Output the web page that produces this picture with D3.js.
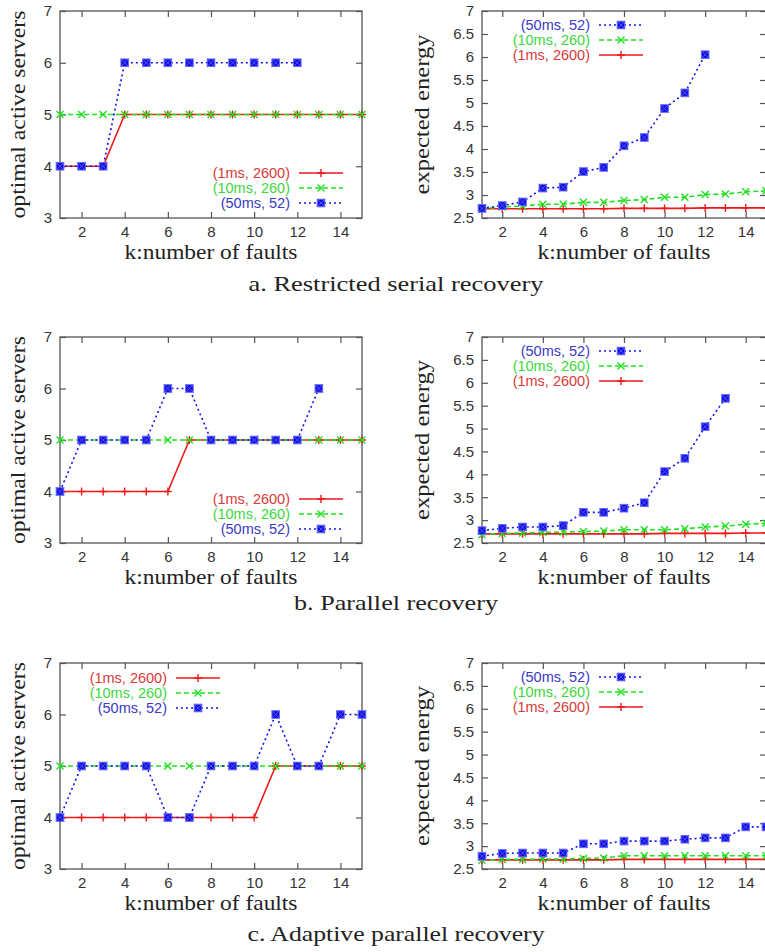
<!DOCTYPE html>
<html>
<head>
<meta charset="utf-8">
<script src="https://cdn.jsdelivr.net/npm/d3@7"></script>
<style>
  html, body { margin: 0; padding: 0; background: #fff; }
  svg { display: block; }
</style>
</head>
<body>
<svg id="chart" width="765" height="952"></svg>
<script>
// ---------- data ----------
const ks = [1, 2, 3, 4, 5, 6, 7, 8, 9, 10, 11, 12, 13, 14, 15];
const seriesNames = ["(1ms, 2600)", "(10ms, 260)", "(50ms, 52)"];
const serverTicks = [3, 4, 5, 6, 7];
const energyTicks = [2.5, 3, 3.5, 4, 4.5, 5, 5.5, 6, 6.5, 7];
const kTicks = [2, 4, 6, 8, 10, 12, 14];
const captions = ["a. Restricted serial recovery", "b. Parallel recovery", "c. Adaptive parallel recovery"];

// a. Restricted serial recovery
const aServers1ms  = [4, 4, 4, 5, 5, 5, 5, 5, 5, 5, 5, 5, 5, 5, 5];
const aServers10ms = [5, 5, 5, 5, 5, 5, 5, 5, 5, 5, 5, 5, 5, 5, 5];
const aServers50ms = [4, 4, 4, 6, 6, 6, 6, 6, 6, 6, 6, 6];
const aEnergy1ms   = [2.70, 2.70, 2.70, 2.70, 2.70, 2.70, 2.70, 2.71, 2.71, 2.71, 2.71, 2.72, 2.72, 2.72, 2.72];
const aEnergy10ms  = [2.70, 2.74, 2.76, 2.80, 2.80, 2.84, 2.84, 2.88, 2.90, 2.95, 2.95, 3.01, 3.02, 3.07, 3.09];
const aEnergy50ms  = [2.71, 2.77, 2.85, 3.15, 3.17, 3.51, 3.60, 4.07, 4.25, 4.88, 5.22, 6.05];

// b. Parallel recovery
const bServers1ms  = [4, 4, 4, 4, 4, 4, 5, 5, 5, 5, 5, 5, 5, 5, 5];
const bServers10ms = [5, 5, 5, 5, 5, 5, 5, 5, 5, 5, 5, 5, 5, 5, 5];
const bServers50ms = [4, 5, 5, 5, 5, 6, 6, 5, 5, 5, 5, 5, 6];
const bEnergy1ms   = [2.70, 2.70, 2.70, 2.70, 2.70, 2.70, 2.70, 2.70, 2.70, 2.71, 2.71, 2.71, 2.71, 2.72, 2.72];
const bEnergy10ms  = [2.68, 2.71, 2.72, 2.73, 2.74, 2.75, 2.76, 2.79, 2.79, 2.79, 2.81, 2.85, 2.87, 2.91, 2.93];
const bEnergy50ms  = [2.77, 2.82, 2.85, 2.85, 2.88, 3.17, 3.17, 3.26, 3.38, 4.06, 4.35, 5.04, 5.66];

// c. Adaptive parallel recovery
const cServers1ms  = [4, 4, 4, 4, 4, 4, 4, 4, 4, 4, 5, 5, 5, 5, 5];
const cServers10ms = [5, 5, 5, 5, 5, 5, 5, 5, 5, 5, 5, 5, 5, 5, 5];
const cServers50ms = [4, 5, 5, 5, 5, 4, 4, 5, 5, 5, 6, 5, 5, 6, 6];
const cEnergy1ms   = [2.70, 2.70, 2.70, 2.70, 2.70, 2.70, 2.70, 2.71, 2.71, 2.71, 2.71, 2.71, 2.71, 2.71, 2.71];
const cEnergy10ms  = [2.69, 2.71, 2.71, 2.72, 2.72, 2.73, 2.74, 2.79, 2.79, 2.79, 2.79, 2.79, 2.79, 2.79, 2.79];
const cEnergy50ms  = [2.78, 2.84, 2.85, 2.85, 2.85, 3.05, 3.05, 3.11, 3.11, 3.11, 3.15, 3.18, 3.18, 3.42, 3.42];

// ---------- styles ----------
const lineColors = ["#f01818", "#22e022", "#1414f0"];
const textColors = ["#d83a3a", "#3ed63e", "#3a3ac4"];
const dashes = [null, "5,3", "2,3"];
const serif = "'Liberation Serif', 'Times New Roman', serif";
const sans = "'Liberation Sans', Arial, Helvetica, sans-serif";

const svg = d3.select("#chart");

function drawMarker(g, type, x, y) {
  const c = lineColors[type];
  if (type === 0) {
    g.append("line").attr("x1", x - 4).attr("x2", x + 4).attr("y1", y).attr("y2", y)
      .attr("stroke", c).attr("stroke-width", 1.4);
    g.append("line").attr("x1", x).attr("x2", x).attr("y1", y - 4).attr("y2", y + 4)
      .attr("stroke", c).attr("stroke-width", 1.4);
  } else if (type === 1) {
    g.append("path").attr("d", `M${x-3.5},${y-3.5}L${x+3.5},${y+3.5}M${x-3.5},${y+3.5}L${x+3.5},${y-3.5}`)
      .attr("stroke", c).attr("stroke-width", 1.4).attr("fill", "none");
  } else {
    g.append("rect").attr("x", x - 3.8).attr("y", y - 3.8).attr("width", 7.6).attr("height", 7.6)
      .attr("fill", "#1010d8").attr("stroke", "#6a6aff").attr("stroke-width", 1);
    g.append("path").attr("d", `M${x-3.8},${y-3.8}L${x+3.8},${y+3.8}M${x-3.8},${y+3.8}L${x+3.8},${y-3.8}`)
      .attr("stroke", "#5050ff").attr("stroke-width", 1).attr("fill", "none");
  }
}

function drawPanel(p) {
  const g = svg.append("g");
  const x = d3.scaleLinear().domain([1, 15]).range([p.left, p.right]);
  const y = d3.scaleLinear().domain(p.yDomain).range([p.bottom, p.top]);

  // border
  g.append("rect").attr("x", p.left).attr("y", p.top)
    .attr("width", p.right - p.left).attr("height", p.bottom - p.top)
    .attr("fill", "none").attr("stroke", "#555").attr("stroke-width", 1.3);

  // axes (ticks inward, mirrored)
  const tickStyle = sel => {
    sel.select(".domain").remove();
    sel.selectAll(".tick line").attr("stroke", "#555").attr("stroke-width", 1.2);
  };
  const xb = g.append("g").attr("transform", `translate(0,${p.bottom})`)
    .call(d3.axisBottom(x).tickValues(kTicks).tickSize(-6).tickPadding(8).tickFormat(d3.format("d")));
  tickStyle(xb);
  xb.selectAll("text").attr("font-family", sans).attr("font-size", 15).attr("fill", "#333");
  const xt = g.append("g").attr("transform", `translate(0,${p.top})`)
    .call(d3.axisTop(x).tickValues(kTicks).tickSize(-6).tickFormat(""));
  tickStyle(xt);
  const yl = g.append("g").attr("transform", `translate(${p.left},0)`)
    .call(d3.axisLeft(y).tickValues(p.yTicks).tickSize(-6).tickPadding(8).tickFormat(d3.format("")));
  tickStyle(yl);
  yl.selectAll("text").attr("font-family", sans).attr("font-size", 15).attr("fill", "#333");
  const yr = g.append("g").attr("transform", `translate(${p.right},0)`)
    .call(d3.axisRight(y).tickValues(p.yTicks).tickSize(-6).tickFormat(""));
  tickStyle(yr);

  // axis titles
  g.append("text").attr("x", (p.left + p.right) / 2).attr("y", p.bottom + 41)
    .attr("text-anchor", "middle").attr("font-family", serif).attr("font-size", 22)
    .attr("textLength", 173).attr("lengthAdjust", "spacingAndGlyphs")
    .attr("fill", "#222").text("k:number of faults");
  g.append("text")
    .attr("transform", `translate(${p.yLabelX},${(p.top + p.bottom) / 2}) rotate(-90)`)
    .attr("text-anchor", "middle").attr("font-family", serif).attr("font-size", 22)
    .attr("textLength", p.yLabelLen).attr("lengthAdjust", "spacingAndGlyphs")
    .attr("fill", "#222").text(p.yLabel);

  // series lines + markers
  const line = d3.line().x((d, i) => x(ks[i])).y(d => y(d));
  p.series.forEach((vals, si) => {
    g.append("path").datum(vals).attr("d", line)
      .attr("fill", "none").attr("stroke", lineColors[si]).attr("stroke-width", 1.6)
      .attr("stroke-dasharray", dashes[si]);
  });
  p.series.forEach((vals, si) => {
    const mg = g.append("g");
    vals.forEach((v, i) => drawMarker(mg, si, x(ks[i]), y(v)));
  });

  // legend
  p.legendOrder.forEach((si, row) => {
    const ly = p.top + p.legendRow0 + row * 15;
    g.append("text").attr("x", p.left + p.legendTextEnd).attr("y", ly)
      .attr("text-anchor", "end").attr("dominant-baseline", "central")
      .attr("font-family", sans).attr("font-size", 14.5).attr("fill", textColors[si])
      .text(seriesNames[si]);
    const x1 = p.left + p.legendTextEnd + 9, x2 = x1 + 44;
    g.append("line").attr("x1", x1).attr("x2", x2).attr("y1", ly).attr("y2", ly)
      .attr("stroke", lineColors[si]).attr("stroke-width", 1.6)
      .attr("stroke-dasharray", dashes[si]);
    drawMarker(g, si, (x1 + x2) / 2, ly);
  });
}

const rows = [
  { top: 11, bottom: 218, s: [aServers1ms, aServers10ms, aServers50ms], e: [aEnergy1ms, aEnergy10ms, aEnergy50ms],
    serverLegend: "br", capY: 291, capLen: 295 },
  { top: 337, bottom: 543, s: [bServers1ms, bServers10ms, bServers50ms], e: [bEnergy1ms, bEnergy10ms, bEnergy50ms],
    serverLegend: "br", capY: 610, capLen: 204 },
  { top: 663, bottom: 869, s: [cServers1ms, cServers10ms, cServers50ms], e: [cEnergy1ms, cEnergy10ms, cEnergy50ms],
    serverLegend: "tl", capY: 941, capLen: 297 }
];

rows.forEach((r, ri) => {
  const br = r.serverLegend === "br";
  drawPanel({
    left: 60, right: 362, top: r.top, bottom: r.bottom,
    yDomain: [3, 7], yTicks: serverTicks, yLabel: "optimal active servers", yLabelX: 25, yLabelLen: 208,
    series: r.s, legendOrder: [0, 1, 2],
    legendRow0: br ? 162 : 15, legendTextEnd: br ? 230 : 107
  });
  drawPanel({
    left: 482, right: 766, top: r.top, bottom: r.bottom,
    yDomain: [2.5, 7], yTicks: energyTicks, yLabel: "expected energy", yLabelX: 429, yLabelLen: 160,
    series: r.e, legendOrder: [2, 1, 0],
    legendRow0: 14, legendTextEnd: 108
  });
  svg.append("text").attr("x", 396).attr("y", r.capY).attr("text-anchor", "middle")
    .attr("font-family", serif).attr("font-size", 21).attr("fill", "#222")
    .attr("textLength", r.capLen).attr("lengthAdjust", "spacingAndGlyphs")
    .text(captions[ri]);
});
</script>
</body>
</html>
